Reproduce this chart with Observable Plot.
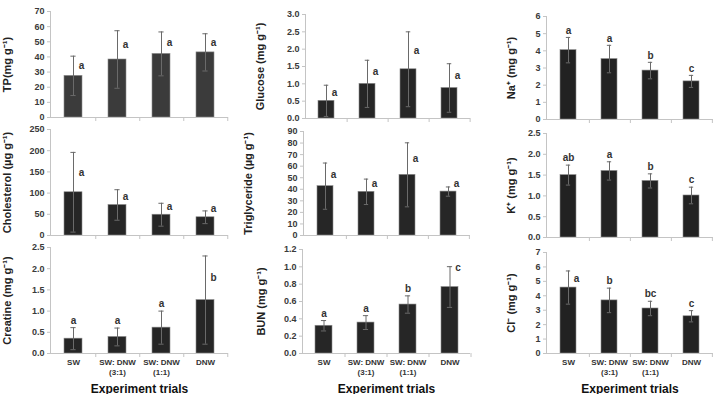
<!DOCTYPE html>
<html><head><meta charset="utf-8">
<script src="https://cdn.jsdelivr.net/npm/d3@7"></script>
<script src="https://cdn.jsdelivr.net/npm/@observablehq/plot@0.6"></script>
<style>
html,body{margin:0;padding:0;background:#fff;}
#chart{position:relative;width:717px;height:394px;overflow:hidden;background:#fff;}
#chart > svg{position:absolute;}
</style></head><body><div id="chart"></div>
<script>
// ---------- data ----------
const trials = ["SW", "SW: DNW\n(3:1)", "SW: DNW\n(1:1)", "DNW"];
const xTitle = "Experiment trials";

const tpMean = [27.5, 38.3, 42, 43];
const tpSd = [13, 19, 14.5, 12.3];
const tpLetters = ["a", "a", "a", "a"];
const tpPlace = ["mid", "mid", "mid", "mid"];
const tpTicks = [0, 10, 20, 30, 40, 50, 60, 70];

const glucoseMean = [0.51, 1.0, 1.42, 0.88];
const glucoseSd = [0.45, 0.68, 1.08, 0.7];
const glucoseLetters = ["a", "a", "a", "a"];
const glucosePlace = ["mid", "mid", "mid", "mid"];
const glucoseTicks = [0, 0.5, 1.0, 1.5, 2.0, 2.5, 3.0];

const naMean = [4.04, 3.52, 2.85, 2.22];
const naSd = [0.74, 0.8, 0.48, 0.35];
const naLetters = ["a", "a", "b", "c"];
const naPlace = ["top", "top", "top", "top"];
const naTicks = [0, 1, 2, 3, 4, 5, 6];

const cholMean = [102, 72, 49, 43];
const cholSd = [94, 36, 27, 15];
const cholLetters = ["a", "a", "a", "a"];
const cholPlace = ["mid", "mid", "mid", "mid"];
const cholTicks = [0, 50, 100, 150, 200, 250];

const trigMean = [42.7, 37.8, 52.5, 38];
const trigSd = [20, 11, 27.7, 4];
const trigLetters = ["a", "a", "a", "a"];
const trigPlace = ["mid", "mid", "mid", "mid"];
const trigTicks = [0, 10, 20, 30, 40, 50, 60, 70, 80, 90];

const kMean = [1.5, 1.6, 1.36, 1.01];
const kSd = [0.24, 0.22, 0.17, 0.2];
const kLetters = ["ab", "a", "b", "c"];
const kPlace = ["top", "top", "top", "top"];
const kTicks = [0, 0.5, 1.0, 1.5, 2.0, 2.5];

const creatMean = [0.35, 0.39, 0.61, 1.26];
const creatSd = [0.26, 0.21, 0.39, 1.04];
const creatLetters = ["a", "a", "a", "b"];
const creatPlace = ["top", "top", "top", "mid"];
const creatTicks = [0, 0.5, 1.0, 1.5, 2.0, 2.5];

const bunMean = [0.32, 0.357, 0.565, 0.767];
const bunSd = [0.06, 0.08, 0.1, 0.235];
const bunLetters = ["a", "a", "b", "c"];
const bunPlace = ["top", "top", "top", "side"];
const bunTicks = [0, 0.2, 0.4, 0.6, 0.8, 1.0, 1.2];

const clMean = [4.57, 3.68, 3.12, 2.58];
const clSd = [1.15, 0.85, 0.5, 0.39];
const clLetters = ["a", "b", "bc", "c"];
const clPlace = ["mid", "top", "top", "top"];
const clTicks = [0, 1, 2, 3, 4, 5, 6, 7];

const panels = [
  {key: "tp", title: "TP(mg g\u207B\u00B9)", mean: tpMean, sd: tpSd, letters: tpLetters, place: tpPlace, ticks: tpTicks, fmt: "d"},
  {key: "glucose", title: "Glucose (mg g\u207B\u00B9)", mean: glucoseMean, sd: glucoseSd, letters: glucoseLetters, place: glucosePlace, ticks: glucoseTicks, fmt: ".1f"},
  {key: "na", title: "Na\u207A (mg g\u207B\u00B9)", mean: naMean, sd: naSd, letters: naLetters, place: naPlace, ticks: naTicks, fmt: "d"},
  {key: "chol", title: "Cholesterol (\u00B5g g\u207B\u00B9)", mean: cholMean, sd: cholSd, letters: cholLetters, place: cholPlace, ticks: cholTicks, fmt: "d"},
  {key: "trig", title: "Triglyceride (\u00B5g g\u207B\u00B9)", mean: trigMean, sd: trigSd, letters: trigLetters, place: trigPlace, ticks: trigTicks, fmt: "d"},
  {key: "k", title: "K\u207A (mg g\u207B\u00B9)", mean: kMean, sd: kSd, letters: kLetters, place: kPlace, ticks: kTicks, fmt: ".1f"},
  {key: "creat", title: "Creatine (mg g\u207B\u00B9)", mean: creatMean, sd: creatSd, letters: creatLetters, place: creatPlace, ticks: creatTicks, fmt: ".1f"},
  {key: "bun", title: "BUN (mg g\u207B\u00B9)", mean: bunMean, sd: bunSd, letters: bunLetters, place: bunPlace, ticks: bunTicks, fmt: ".1f"},
  {key: "cl", title: "Cl\u207B (mg g\u207B\u00B9)", mean: clMean, sd: clSd, letters: clLetters, place: clPlace, ticks: clTicks, fmt: "d"}
];

// ---------- layout (pixels) ----------
const layout = {
  tp:      {col: 0,   row: 0, frame: [50, 11, 228, 117],  titleLeft: 2.5,   fill: "#3b3b3b"},
  glucose: {col: 240, row: 0, frame: [305, 14, 470, 118], titleLeft: 255.5, fill: "#262626"},
  na:      {col: 480, row: 0, frame: [546, 16, 713, 119], titleLeft: 506.5, fill: "#222222"},
  chol:    {col: 0,   row: 1, frame: [50, 129, 228, 235], titleLeft: 2.5,   fill: "#262626"},
  trig:    {col: 240, row: 1, frame: [303, 131, 470, 235], titleLeft: 243.5, fill: "#262626"},
  k:       {col: 480, row: 1, frame: [546, 133, 713, 237], titleLeft: 506.5, fill: "#222222"},
  creat:   {col: 0,   row: 2, frame: [50, 247, 228, 353], titleLeft: 2.5,   fill: "#262626"},
  bun:     {col: 240, row: 2, frame: [302, 249, 470, 353], titleLeft: 256.5, fill: "#262626"},
  cl:      {col: 480, row: 2, frame: [546, 252, 713, 353], titleLeft: 506.5, fill: "#222222"}
};

const font = "'Liberation Sans', Arial, Helvetica, sans-serif";
const axisGray = "#c4c4c4";
const errColor = "#6a6a6a";
const chart = document.getElementById("chart");

for (const p of panels) {
  const L = layout[p.key];
  const [fl, ft, fr, fb] = L.frame;
  const mt = 12, mr = 4;
  const bottom = L.row === 2;
  const mb = bottom ? 394 - fb : 6;
  const ml = fl - L.col;
  const width = fr - L.col + mr;
  const height = mt + (fb - ft) + mb;
  const fh = fb - ft;
  const ymax = p.ticks[p.ticks.length - 1];
  const step = (fr - fl) / trials.length;
  const bw = step * 0.4;
  const capInset = (bw - 5) / 2;
  const minOff = 8 * ymax / fh;

  const rows = trials.map((t, i) => ({trial: t, mean: p.mean[i], sd: p.sd[i], letter: p.letters[i], place: p.place[i]}));
  const midRows = rows.filter(d => d.place === "mid").map(d => ({...d, ly: Math.max(d.mean + d.sd / 2, d.mean + minOff)}));
  const topRows = rows.filter(d => d.place === "top");
  const sideRows = rows.filter(d => d.place === "side");
  const fmt = d3.format(p.fmt);

  const marks = [
    Plot.barY(rows, {x: "trial", y: "mean", fill: L.fill, stroke: "#8c8c8c", strokeWidth: 0.6}),
    Plot.ruleX(rows, {x: "trial", y1: d => d.mean - d.sd, y2: d => d.mean + d.sd, stroke: errColor, strokeWidth: 1}),
    Plot.tickY(rows, {x: "trial", y: d => d.mean + d.sd, stroke: errColor, strokeWidth: 1, insetLeft: capInset, insetRight: capInset}),
    Plot.tickY(rows, {x: "trial", y: d => d.mean - d.sd, stroke: errColor, strokeWidth: 1, insetLeft: capInset, insetRight: capInset}),
    Plot.frame({anchor: "left", stroke: axisGray}),
    Plot.ruleY([0], {stroke: axisGray}),
    Plot.ruleX(trials, {x: d => d, y1: 0, y2: 0, dx: step / 2, insetTop: 4, stroke: axisGray}),
    Plot.axisY({ticks: p.ticks, tickFormat: fmt, tickSize: 3, tickPadding: 3, stroke: axisGray, fill: "#3a3a3a",
      fontSize: 9, fontWeight: "bold", fontFamily: font, label: null}),
    Plot.axisY({ticks: [], tickSize: 0, label: p.title, labelAnchor: "center", labelArrow: "none",
      labelOffset: fl - L.titleLeft, fontSize: 11, fontWeight: "bold", fontFamily: font, fill: "#222"}),
    Plot.text(midRows, {x: "trial", y: "ly", text: "letter", dx: 8, fontSize: 10, fontWeight: "bold", fontFamily: font, fill: "#333"}),
    Plot.text(topRows, {x: "trial", y: d => d.mean + d.sd, text: "letter", dy: -7, fontSize: 10, fontWeight: "bold", fontFamily: font, fill: "#333"}),
    Plot.text(sideRows, {x: "trial", y: d => d.mean + d.sd, text: "letter", dx: 8, dy: 1, fontSize: 10, fontWeight: "bold", fontFamily: font, fill: "#333"})
  ];
  if (bottom) {
    marks.push(
      Plot.axisX({tickSize: 0, tickPadding: 5, fontSize: 8, fontWeight: "bold", fontFamily: font, fill: "#333",
        lineHeight: 1.2, label: null}),
      Plot.axisX({ticks: [], tickSize: 0, label: xTitle, labelAnchor: "center", labelArrow: "none",
        labelOffset: mb - 2, fontSize: 12, fontWeight: "bold", fontFamily: font, fill: "#111"})
    );
  }

  const svg = Plot.plot({
    width, height,
    marginLeft: ml, marginRight: mr, marginTop: mt, marginBottom: mb,
    style: {background: "transparent", overflow: "visible", fontFamily: font},
    x: {type: "band", domain: trials, paddingInner: 0.6, paddingOuter: 0.3, axis: bottom ? undefined : null},
    y: {domain: [0, ymax]},
    marks
  });
  svg.style.left = L.col + "px";
  svg.style.top = (ft - mt) + "px";
  chart.appendChild(svg);
}
</script>
</body></html>
